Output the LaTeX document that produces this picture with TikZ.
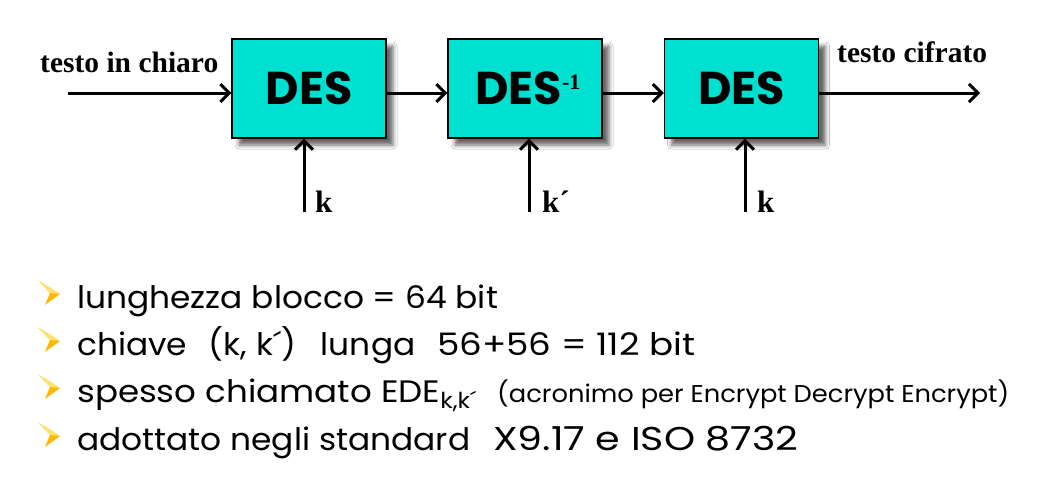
\documentclass[tikz,border=0pt]{standalone}
\usepackage{fontspec}
\setmainfont{Liberation Serif}
\newfontfamily\comicfont[FakeStretch=1.06]{Poppins}
\newfontfamily\comicmid[FakeStretch=1.1]{Poppins}
\newfontfamily\comicwide[FakeStretch=1.15]{Poppins}
\newfontfamily\comicwider[FakeStretch=1.2]{Poppins}
\newfontfamily\desfont{Poppins}
\usetikzlibrary{arrows.meta,shadows.blur}
\definecolor{boxcyan}{RGB}{0,224,208}
\definecolor{bulletgold}{RGB}{255,184,0}
\definecolor{bulletlight}{RGB}{255,226,110}
\newcommand\bulletarrow[1]{%
  \begin{scope}[shift={(0,#1)}]
    \fill[bulletgold] (39,-13) -- (60,0) -- (45,11) -- (50,-1) -- cycle;
    \fill[bulletlight] (39,-13) -- (60,0) -- (50,-1) -- cycle;
  \end{scope}}
\tikzset{
  desbox/.style={draw=black, line width=1.2pt, fill=boxcyan,
    minimum width=154pt, minimum height=99pt, inner sep=0pt,
    blur shadow={shadow xshift=7pt, shadow yshift=-7pt, shadow opacity=60, shadow blur radius=4pt}},
  destext/.style={font=\desfont\bfseries\fontsize{46}{46}\selectfont},
  arr/.style={line width=3pt, -{Straight Barb[length=9pt,width=18pt,line width=3pt]}},
  lbl/.style={font=\bfseries\fontsize{29.5}{30}\selectfont, inner sep=0pt, anchor=base west},
  klbl/.style={font=\bfseries\fontsize{31}{31}\selectfont, inner sep=0pt, anchor=base west},
  bline/.style={font=\comicfont\fontsize{31}{31}\selectfont, inner sep=0pt, anchor=base west},
  bwide/.style={font=\comicwide\fontsize{31}{31}\selectfont, inner sep=0pt, anchor=base west},
}
\begin{document}
\begin{tikzpicture}[x=1pt,y=-1pt]
\useasboundingbox (0,0) rectangle (1037,498);
\fill[white] (0,0) rectangle (1037,498);

\node[desbox] (b1) at (309,88.5) {};
\node[desbox] (b2) at (525,88.5) {};
\node[desbox] (b3) at (741.5,88.5) {};
\node[destext] (t1) at (b1) {DES};
\node[destext] (t2) at ([xshift=3pt]b2) {DES\raisebox{15pt}{\normalfont\bfseries\fontsize{22}{22}\selectfont -1}};
\node[destext] (t3) at (b3) {DES};

\coordinate (in) at (68,93);
\coordinate (out) at (980,93);
\draw[arr] (in) -- (in -| b1.west);
\draw[arr] ([yshift=-4.5pt]b1.east) -- ([yshift=-4.5pt]b2.west);
\draw[arr] ([yshift=-4.5pt]b2.east) -- ([yshift=-4.5pt]b3.west);
\draw[arr] ([yshift=-4.5pt]b3.east) -- (out);

\coordinate (k1) at (304,212);
\coordinate (k2) at (529,212);
\coordinate (k3) at (745,212);
\draw[arr] (k1) -- (k1 |- b1.south);
\draw[arr] (k2) -- (k2 |- b2.south);
\draw[arr] (k3) -- (k3 |- b3.south);

\node[lbl] (lin) at (40,72) {testo in chiaro};
\node[lbl] (lout) at (837,62) {testo cifrato};
\node[klbl] (kl1) at (315,212) {k};
\node[klbl] (kl2) at (542,212) {k´};
\node[klbl] (kl3) at (757,212) {k};

\bulletarrow{294}
\bulletarrow{341}
\bulletarrow{388}
\bulletarrow{436}
\node[bline] (l1) at (77,308) {lunghezza blocco = 64 bit};
\node[bline] (l2a) at (77,355) {chiave\hspace{0.7em}(k, k´)\hspace{0.8em}lunga};
\node[bwide] (l2b) at (437,355) {56+56 = 112 bit};
\node[bline, font=\comicmid\fontsize{31}{31}\selectfont] (l3a) at (77,402) {spesso chiamato EDE\raisebox{-6pt}{\fontsize{22}{22}\selectfont k,k´}};
\node[bline, font=\comicfont\fontsize{24.3}{25}\selectfont] (l3b) at (497,402) {(acronimo per Encrypt Decrypt Encrypt)};
\node[bline] (l4a) at (77,450) {adottato negli standard};
\node[bline, font=\comicwider\fontsize{33}{33}\selectfont] (l4b) at (493,450) {X9.17 e ISO 8732};
\end{tikzpicture}
\end{document}
